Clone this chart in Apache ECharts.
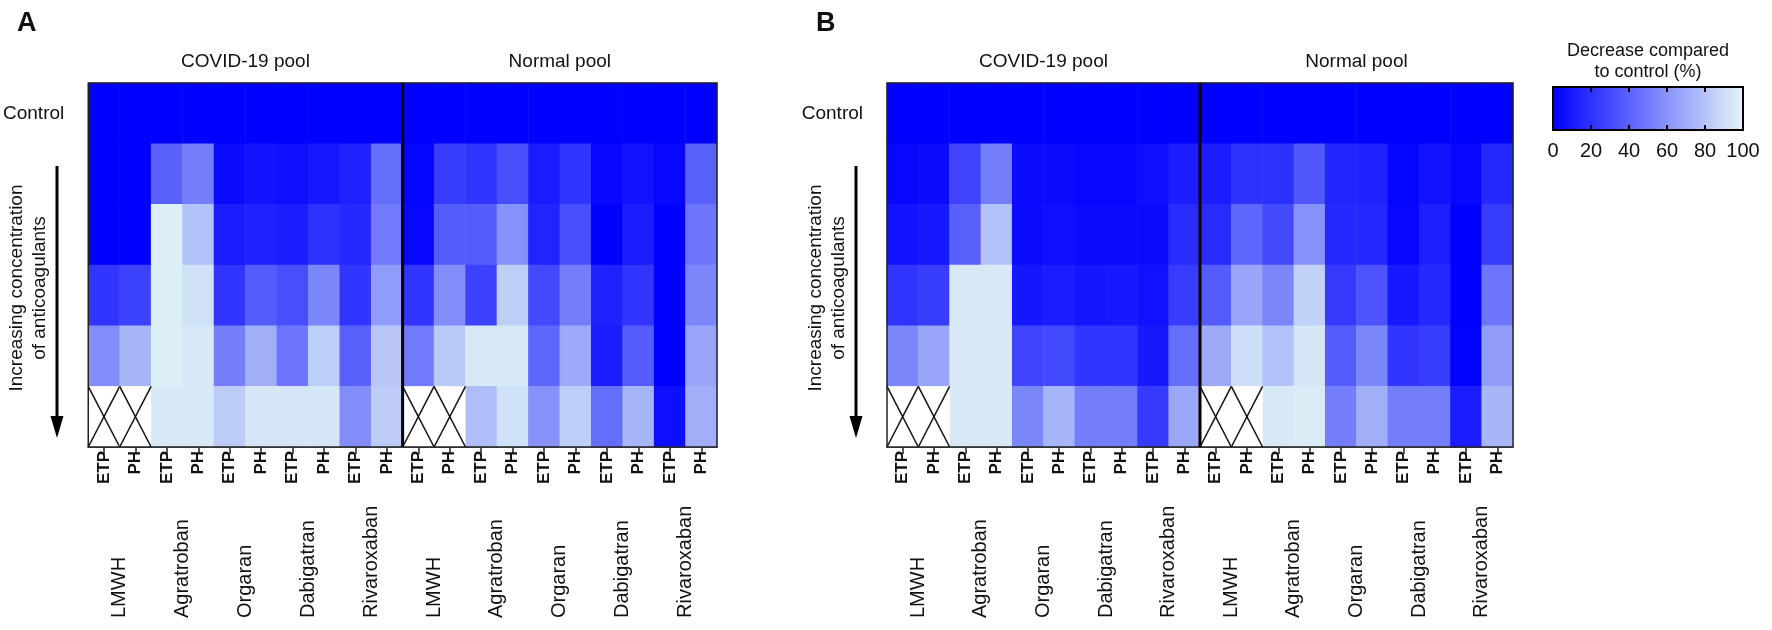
<!DOCTYPE html>
<html>
<head>
<meta charset="utf-8">
<script src="https://cdn.jsdelivr.net/npm/echarts@6/dist/echarts.min.js"></script>
<style>
html,body{margin:0;padding:0;background:#ffffff;}
#chart{width:1772px;height:630px;}
</style>
</head>
<body>
<div id="chart"></div>
<script>
// ---------------- data ----------------
const measureLabels = ['ETP','PH','ETP','PH','ETP','PH','ETP','PH','ETP','PH',
                       'ETP','PH','ETP','PH','ETP','PH','ETP','PH','ETP','PH'];
const drugNames = ['LMWH','Agratroban','Orgaran','Dabigatran','Rivaroxaban',
                   'LMWH','Agratroban','Orgaran','Dabigatran','Rivaroxaban'];
const poolNames = ['COVID-19 pool','Normal pool'];
const rowLabels = ['Control','','','','',''];
const legendTicks = [0,20,40,60,80,100];

// Panel A: decrease compared to control (%), columns = measureLabels order
const aControl = [0,0,0,0,0,0,0,0,0,0, 0,0,0,0,0,0,0,0,0,0];
const aConc1   = [0,0,40,52,5,8,6,10,14,45,   2,25,22,32,12,22,3,8,3,40];
const aConc2   = [0,0,98,80,12,14,12,20,17,50, 3,38,38,60,15,32,0,12,0,48];
const aConc3   = [22,27,98,93,22,38,32,55,22,64, 22,58,27,85,30,52,14,22,0,55];
const aConc4   = [58,75,98,96,52,72,48,85,40,82, 50,83,96,96,42,70,12,38,0,68];
const aConc5   = [null,null,96,96,84,95,95,95,58,84, null,null,78,93,60,85,45,74,6,72];

// Panel B
const bControl = [0,0,0,0,0,0,0,0,0,0, 0,0,0,0,0,0,0,0,0,0];
const bConc1   = [3,5,28,52,4,4,3,3,6,12,   12,20,20,36,15,14,2,8,3,17];
const bConc2   = [8,10,40,80,5,6,4,4,4,18,  18,42,30,60,17,16,3,13,0,25];
const bConc3   = [22,25,96,96,9,12,9,10,7,25, 38,68,55,86,24,34,10,17,0,48];
const bConc4   = [55,68,96,96,28,30,22,22,10,45, 70,92,80,95,38,55,22,25,1,65];
const bConc5   = [null,null,96,96,55,74,52,52,24,69, null,null,96,97,52,72,52,52,12,75];

// cells not measured (drawn crossed): [column, row]
const crossedA = [[0,5],[1,5],[10,5],[11,5]];
const crossedB = [[0,5],[1,5],[10,5],[11,5]];

// ---------------- build ----------------
function toCells(rows){
  const out = [];
  rows.forEach((row, r) => row.forEach((v, c) => out.push([c, r, v === null ? '-' : v])));
  return out;
}
const cellsA = toCells([aControl,aConc1,aConc2,aConc3,aConc4,aConc5]);
const cellsB = toCells([bControl,bConc1,bConc2,bConc3,bConc4,bConc5]);
const dividerAfter = measureLabels.length / poolNames.length - 1;

const FONT = '"Liberation Sans", Arial, Helvetica, sans-serif';
const INK = '#111111';

const grids = [
  {left: 88,  top: 83, width: 629, height: 364},
  {left: 887, top: 83, width: 626, height: 364},
  {left: 1553, top: 87, width: 190, height: 43, show: true, borderColor: '#000', borderWidth: 2,
   backgroundColor: {type:'linear', x:0, y:0, x2:1, y2:0,
     colorStops:[{offset:0, color:'#0000ff'},{offset:1, color:'#e6f5f9'}]}}
];

const xAxes = [];
const yAxes = [];
[0,1].forEach(g => {
  xAxes.push({
    gridIndex: g, type: 'category', data: measureLabels, position: 'bottom',
    axisLine: {show: true, lineStyle: {color: '#222', width: 1.5}},
    axisTick: {show: true, alignWithLabel: true, length: 7, lineStyle: {color: '#222', width: 1.5}},
    axisLabel: {interval: 0, rotate: 90, fontSize: 17, fontWeight: 'bold', color: INK, margin: 4, fontFamily: FONT},
    splitLine: {show: false}
  });
  xAxes.push({
    gridIndex: g, type: 'category', data: drugNames, position: 'bottom',
    axisLine: {show: false}, axisTick: {show: false},
    axisLabel: {interval: 0, rotate: 90, align: 'left', fontSize: 20, color: INK, margin: 171, fontFamily: FONT},
    splitLine: {show: false}
  });
  xAxes.push({
    gridIndex: g, type: 'category', data: poolNames, position: 'top',
    axisLine: {show: false}, axisTick: {show: false},
    axisLabel: {interval: 0, fontSize: 19, color: INK, margin: 12, fontFamily: FONT},
    splitLine: {show: false}
  });
  yAxes.push({
    gridIndex: g, type: 'category', data: rowLabels, inverse: true,
    axisLine: {show: false}, axisTick: {show: false},
    axisLabel: {interval: 0, fontSize: 19, color: INK, margin: 24, fontFamily: FONT},
    splitLine: {show: false}
  });
});
// colour bar axes
xAxes.push({
  gridIndex: 2, type: 'value', position: 'bottom',
  min: legendTicks[0], max: legendTicks[legendTicks.length-1], interval: legendTicks[1]-legendTicks[0],
  axisLine: {show: false},
  axisTick: {show: true, inside: true, length: 5, lineStyle: {color: '#000', width: 2}},
  axisLabel: {fontSize: 20, color: INK, margin: 11, fontFamily: FONT},
  splitLine: {show: false}
});
xAxes.push({
  gridIndex: 2, type: 'value', position: 'top',
  min: legendTicks[0], max: legendTicks[legendTicks.length-1], interval: legendTicks[1]-legendTicks[0],
  axisLine: {show: false},
  axisTick: {show: true, inside: true, length: 5, lineStyle: {color: '#000', width: 2}},
  axisLabel: {show: false},
  splitLine: {show: false}
});
yAxes.push({gridIndex: 2, type: 'value', min: 0, max: 1, show: false});

function renderCross(params, api){
  const c = api.coord([api.value(0), api.value(1)]);
  const s = api.size([1, 1]);
  const x0 = c[0]-s[0]/2, x1 = c[0]+s[0]/2, y0 = c[1]-s[1]/2, y1 = c[1]+s[1]/2;
  return {type: 'group', children: [
    {type:'rect', shape:{x:x0, y:y0, width:s[0], height:s[1]}, style:{fill:'#ffffff'}},
    {type:'line', shape:{x1:x0, y1:y0, x2:x1, y2:y1}, style:{stroke:'#111', lineWidth:1.5}},
    {type:'line', shape:{x1:x0, y1:y1, x2:x1, y2:y0}, style:{stroke:'#111', lineWidth:1.5}}
  ]};
}
function renderFrame(params, api){
  const cs = params.coordSys;
  const a = api.coord([api.value(0), 0])[0];
  const b = api.coord([api.value(0) + 1, 0])[0];
  const xm = (a + b) / 2;
  return {type: 'group', children: [
    {type:'rect', shape:{x:cs.x, y:cs.y, width:cs.width, height:cs.height},
     style:{fill:'transparent', stroke:'#222', lineWidth:1.5}},
    {type:'line', shape:{x1:xm, y1:cs.y, x2:xm, y2:cs.y+cs.height}, style:{stroke:'#000', lineWidth:3}}
  ]};
}

const series = [
  {type:'heatmap', xAxisIndex:0, yAxisIndex:0, data: cellsA, itemStyle:{borderWidth:0}, emphasis:{disabled:true}},
  {type:'heatmap', xAxisIndex:3, yAxisIndex:1, data: cellsB, itemStyle:{borderWidth:0}, emphasis:{disabled:true}},
  {type:'custom', xAxisIndex:0, yAxisIndex:0, data: crossedA, renderItem: renderCross, z: 4, silent: true},
  {type:'custom', xAxisIndex:3, yAxisIndex:1, data: crossedB, renderItem: renderCross, z: 4, silent: true},
  {type:'custom', xAxisIndex:0, yAxisIndex:0, data: [[dividerAfter, 0]], renderItem: renderFrame, z: 6, silent: true},
  {type:'custom', xAxisIndex:3, yAxisIndex:1, data: [[dividerAfter, 0]], renderItem: renderFrame, z: 6, silent: true}
];

function sideDecor(left){
  const ax = left - 31;
  return [
    {type:'text', x: left - 60, y: 288, rotation: Math.PI/2,
     style:{text:'Increasing concentration\nof anticoagulants', font: '19px ' + FONT, fill: INK,
            align:'center', verticalAlign:'middle', lineHeight: 23}},
    {type:'line', shape:{x1: ax, y1: 166, x2: ax, y2: 420}, style:{stroke:'#000', lineWidth:3}},
    {type:'polygon', shape:{points:[[ax-6.5, 416],[ax+6.5, 416],[ax, 438]]}, style:{fill:'#000'}}
  ];
}

const option = {
  animation: false,
  backgroundColor: '#ffffff',
  textStyle: {fontFamily: FONT},
  grid: grids,
  xAxis: xAxes,
  yAxis: yAxes,
  visualMap: {
    type: 'continuous', show: false, min: 0, max: 100, seriesIndex: [0, 1],
    inRange: {color: ['#0000ff', '#e0f3f6']}
  },
  graphic: [
    {type:'text', x: 17, y: 10, style:{text:'A', font:'bold 27px ' + FONT, fill: INK}},
    {type:'text', x: 816, y: 10, style:{text:'B', font:'bold 27px ' + FONT, fill: INK}},
    ...sideDecor(88),
    ...sideDecor(887),
    {type:'text', x: 1648, y: 62, style:{text:'Decrease compared\nto control (%)', font:'18px ' + FONT,
      fill: INK, align:'center', verticalAlign:'middle', lineHeight: 21}}
  ],
  series: series
};

const chart = echarts.init(document.getElementById('chart'), null, {renderer: 'canvas'});
chart.setOption(option);
</script>
</body>
</html>
